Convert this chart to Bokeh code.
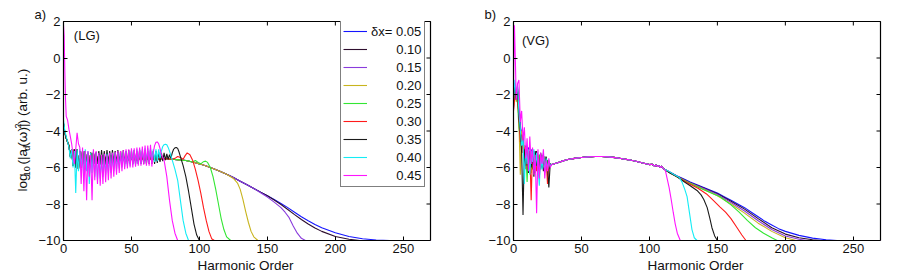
from bokeh.plotting import figure
from bokeh.layouts import row, column
from bokeh.models import Legend, LegendItem, Label, FixedTicker, Range1d, Title
from bokeh.embed import file_html
from bokeh.resources import INLINE

FONT = "Liberation Sans"
TXT = "#111111"

# ---------------- data ----------------
deltas = ["0.05", "0.10", "0.15", "0.20", "0.25", "0.30", "0.35", "0.40", "0.45"]
colors = ["#1414ff", "#2e0e2e", "#8a3cdc", "#c8b41e", "#33e633", "#ff1a1a", "#1a1a1a", "#14ecf5", "#ff14ff"]

x_ticks = [0, 50, 100, 150, 200, 250]
y_ticks = [-10, -8, -6, -4, -2, 0, 2]
x_lim = (0, 270)
y_lim = (-10, 2)

# ---- (LG) panel ----
lg_head_x = [0, 1, 2, 3, 4, 5, 6, 7, 8, 9, 10, 11, 12, 13, 14, 15, 16, 17, 18, 19, 20, 21, 22, 23, 24, 25]
lg_head_other = [-3.6, -4.1, -4.4, -4.6, -4.8, -5.4, -5.0, -5.9, -5.0, -6.0, -5.0, -6.1, -5.1, -6.0, -5.1, -6.1,
                 -5.1, -5.9, -5.2, -6.0, -5.2, -5.9, -5.2, -5.8, -5.2, -5.8]
lg_head_cyan = [-3.4, -4.0, -4.3, -4.6, -4.9, -5.5, -5.0, -6.0, -5.1, -7.4, -5.0, -6.2, -5.0, -6.0, -5.1, -6.4,
                -5.0, -6.2, -5.1, -6.9, -5.2, -6.3, -5.1, -6.5, -5.2, -6.7]
lg_head_mag_x = [0, 0.5, 1, 1.5, 2, 3, 4, 5, 6, 7, 8, 9, 10, 11, 12, 13, 14, 15, 16, 17, 18, 19, 20, 21, 22, 23, 24, 25]
lg_head_mag = [1.8, 1.2, -0.8, -2.3, -3.2, -3.4, -3.9, -4.3, -4.7, -5.3, -5.8, -5.0, -4.1, -4.7, -4.9, -6.9,
               -4.9, -7.3, -5.1, -7.8, -5.1, -6.5, -5.3, -7.8, -5.0, -6.7, -5.1, -6.9]

lg_plat_x = [26, 27, 28, 29, 30, 31, 32, 33, 34, 35, 36, 37, 38, 39, 40, 41, 42, 43, 44, 45,
             46, 47, 48, 49, 50, 51, 52, 53, 54, 55, 56, 57, 58, 59, 60, 61, 62, 63, 64, 65]
lg_plat_mag = [-5.2, -7.0, -5.3, -6.9, -5.25, -6.8, -5.3, -6.7, -5.2, -6.6, -5.2, -6.5, -5.15, -6.4, -5.1, -6.3,
               -5.1, -6.2, -5.05, -6.1, -5.0, -6.05, -5.0, -6.0, -4.95, -6.0, -4.95, -5.95, -4.9, -5.9,
               -4.9, -5.9, -4.85, -5.85, -4.8, -5.9, -4.8, -5.9, -4.75, -5.95]
lg_plat_cyan = [-5.3, -6.6, -5.3, -6.5, -5.3, -6.4, -5.25, -6.3, -5.25, -6.3, -5.2, -6.2, -5.2, -6.1, -5.2, -6.05,
                -5.15, -6.0, -5.15, -5.95, -5.1, -5.9, -5.1, -5.9, -5.05, -5.85, -5.05, -5.85, -5.0, -5.8,
                -5.0, -5.8, -5.0, -5.75, -4.95, -5.75, -4.95, -5.75, -4.95, -5.75]
lg_plat_black = [-5.1, -5.85, -5.05, -5.85, -5.1, -5.85, -5.05, -5.8, -5.1, -5.85, -5.05, -5.8, -5.1, -5.8,
                 -5.05, -5.8, -5.1, -5.8, -5.05, -5.8, -5.1, -5.8, -5.05, -5.8, -5.1, -5.8, -5.05, -5.8,
                 -5.1, -5.8, -5.05, -5.8, -5.1, -5.8, -5.05, -5.8, -5.1, -5.8, -5.05, -5.8]
lg_plat_small = [-5.3, -5.8, -5.3, -5.8, -5.32, -5.78, -5.32, -5.76, -5.34, -5.74, -5.34, -5.72, -5.36, -5.7,
                 -5.36, -5.7, -5.38, -5.68, -5.38, -5.66, -5.4, -5.66, -5.4, -5.64, -5.4, -5.64, -5.42, -5.62,
                 -5.42, -5.62, -5.42, -5.62, -5.44, -5.6, -5.44, -5.6, -5.44, -5.6, -5.45, -5.6]

lg_env_x = [66, 67, 68, 69, 70, 71, 72, 74, 76, 78, 80, 85, 90, 95, 100, 105, 110, 115, 120, 125, 130, 135, 140,
            145, 150, 155, 160, 165, 170, 175, 180, 185, 190, 200, 210, 220, 230, 240, 270]
lg_env_y = [-5.45, -5.6, -5.45, -5.6, -5.5, -5.58, -5.5, -5.55, -5.5, -5.55, -5.55, -5.58, -5.62, -5.7, -5.8,
            -5.92, -6.05, -6.2, -6.37, -6.55, -6.75, -6.95, -7.15, -7.35, -7.55, -7.75, -7.97, -8.2, -8.45,
            -8.7, -8.92, -9.12, -9.3, -9.58, -9.78, -9.9, -9.97, -10.0, -10.0]
lg_010_x = [155, 160, 165, 170, 175, 180, 185, 190, 200, 210, 218, 270]
lg_010_y = [-7.78, -8.03, -8.3, -8.58, -8.85, -9.1, -9.32, -9.5, -9.78, -9.93, -10.0, -10.0]
lg_015_x = [145, 150, 155, 160, 163, 166, 169, 172, 175, 178, 270]
lg_015_y = [-7.38, -7.62, -7.9, -8.2, -8.45, -8.75, -9.2, -9.6, -9.88, -10.0, -10.0]
lg_020_x = [125, 128, 130, 132, 134, 136, 138, 140, 143, 270]
lg_020_y = [-6.6, -6.85, -7.2, -7.75, -8.4, -9.0, -9.5, -9.8, -10.0, -10.0]
lg_025_x = [97, 99, 101, 103, 104.5, 106, 108, 110, 112, 114, 116, 118, 120, 123, 270]
lg_025_y = [-5.62, -5.72, -5.8, -5.68, -5.65, -5.72, -6.0, -6.5, -7.2, -8.0, -8.8, -9.4, -9.8, -10.0, -10.0]
lg_030_x = [82, 84, 86, 88, 89.5, 91, 93, 95, 97, 99, 101, 103, 105, 107, 109, 111, 270]
lg_030_y = [-5.5, -5.4, -5.45, -5.55, -5.35, -5.2, -5.3, -5.6, -6.1, -6.7, -7.4, -8.2, -8.9, -9.5, -9.9, -10.0, -10.0]
lg_035_x = [66, 67, 68, 69, 70, 71, 72, 73, 74, 75, 76, 77, 78, 79, 80, 81, 82, 83, 84, 85, 86, 88, 90, 92, 94,
            96, 98, 100, 270]
lg_035_y = [-5.1, -5.8, -5.1, -5.75, -5.15, -5.7, -5.2, -5.65, -5.2, -5.6, -5.25, -5.55, -5.3, -5.5, -5.2, -5.0,
            -4.92, -4.9, -4.95, -5.15, -5.4, -5.9, -6.5, -7.3, -8.2, -9.1, -9.7, -10.0, -10.0]
lg_040_x = [66, 67, 68, 69, 70, 71, 72, 73, 74, 75, 76, 77, 78, 80, 82, 84, 86, 88, 90, 92, 270]
lg_040_y = [-5.0, -5.7, -5.0, -5.65, -5.0, -5.5, -5.1, -4.85, -4.75, -4.72, -4.75, -4.9, -5.1, -5.6, -6.1, -6.7,
            -7.8, -8.9, -9.6, -10.0, -10.0]
lg_045_x = [66, 67, 68, 69, 70, 71, 72, 74, 76, 78, 80, 82, 84, 270]
lg_045_y = [-5.2, -4.8, -4.62, -4.6, -4.7, -4.95, -5.3, -5.6, -6.5, -7.8, -8.9, -9.6, -10.0, -10.0]

# ---- (VG) panel ----
vg_head_x = [0, 1, 2, 3, 4, 5, 6, 7, 8, 9, 10, 11, 12, 13, 14, 15, 16, 17, 18, 19, 20, 21, 22, 23, 24, 25, 26, 27]
vg_head_005 = [-2.8, -1.5, -2.0, -1.8, -3.2, -3.6, -4.5, -4.2, -5.3, -4.8, -5.6, -4.9, -6.0, -5.0, -5.8, -5.1,
               -6.2, -5.2, -5.9, -5.3, -6.0, -5.4, -6.1, -5.5, -5.9, -5.6, -6.0, -5.8]
vg_head_010 = [-2.5, -1.6, -2.2, -1.6, -3.0, -3.8, -4.3, -4.6, -5.1, -5.0, -5.7, -5.0, -6.1, -5.2, -5.7, -5.3,
               -6.0, -5.1, -6.1, -5.4, -5.8, -5.3, -6.2, -5.5, -5.8, -5.7, -6.1, -5.8]
vg_head_015 = [-2.6, -1.7, -2.1, -1.9, -3.1, -3.7, -4.6, -4.4, -5.4, -4.9, -5.9, -5.1, -5.8, -5.1, -6.0, -5.2,
               -5.9, -5.3, -6.2, -5.3, -6.1, -5.4, -5.9, -5.4, -6.0, -5.6, -5.9, -5.8]
vg_head_020 = [-2.6, -1.8, -2.4, -2.0, -3.5, -6.4, -4.0, -5.0, -4.8, -5.6, -5.0, -6.0, -5.1, -6.3, -5.3, -5.8,
               -5.2, -6.0, -5.4, -6.1, -5.3, -5.9, -5.5, -6.0, -5.6, -5.9, -5.7, -5.85]
vg_head_025 = [-2.7, -2.0, -1.9, -2.5, -3.8, -4.4, -5.0, -4.6, -5.5, -5.0, -6.8, -5.1, -5.9, -5.3, -6.1, -5.2,
               -6.3, -5.4, -5.8, -5.3, -6.1, -5.5, -6.0, -5.4, -5.9, -5.6, -6.0, -5.8]
vg_head_030 = [-2.9, -2.1, -1.9, -2.2, -3.4, -4.6, -4.2, -5.2, -4.9, -6.1, -5.0, -5.6, -5.1, -7.8, -5.0, -6.0,
               -5.2, -6.2, -5.3, -6.4, -5.4, -5.8, -5.3, -6.0, -5.5, -6.9, -5.7, -5.9]
vg_head_035 = [-2.4, -1.4, -2.3, -1.7, -3.3, -4.0, -5.2, -8.6, -5.0, -5.9, -4.9, -6.3, -5.1, -6.0, -5.2, -6.5,
               -5.1, -5.9, -5.4, -6.2, -5.2, -6.0, -5.6, -6.1, -5.4, -5.9, -7.1, -5.8]
vg_head_040 = [-2.3, -1.2, -2.0, -1.5, -3.0, -3.9, -4.8, -4.5, -6.9, -4.9, -5.8, -5.0, -6.4, -5.1, -5.7, -5.0,
               -6.2, -5.2, -6.0, -7.0, -5.3, -6.1, -5.2, -6.3, -5.5, -6.1, -5.6, -5.9]
vg_head_mag_x = [0, 0.7, 1.4, 2, 3, 4, 5, 6, 7, 8, 9, 10, 11, 12, 13, 14, 15, 16, 17, 18, 19, 20, 21, 22, 23, 24,
                 25, 26, 27]
vg_head_045 = [-1.5, 1.8, -0.2, -2.3, -1.4, -1.2, -3.5, -2.9, -4.5, -3.8, -5.5, -4.4, -6.2, -4.3, -5.8, -4.9,
               -6.4, -5.3, -8.5, -5.0, -6.6, -5.2, -5.8, -5.0, -6.6, -5.6, -6.2, -5.5, -6.0]

vg_mid_x = [28, 30, 32, 34, 36, 38, 40, 45, 50, 55, 60, 65, 70, 75, 80, 85, 90, 95, 100, 102, 104, 105, 106,
            107, 108, 109]
vg_mid_y = [-5.85, -5.8, -5.75, -5.7, -5.65, -5.6, -5.56, -5.5, -5.45, -5.42, -5.4, -5.4, -5.42, -5.46, -5.52,
            -5.58, -5.66, -5.75, -5.84, -5.82, -5.93, -5.86, -5.95, -5.9, -6.0, -5.93]

vg_005_x = [110, 115, 120, 125, 130, 135, 140, 145, 150, 155, 160, 165, 170, 175, 180, 185, 190, 195, 200, 210,
            220, 230, 238, 270]
vg_005_y = [-6.05, -6.25, -6.45, -6.62, -6.8, -6.95, -7.1, -7.25, -7.4, -7.6, -7.8, -8.0, -8.2, -8.45, -8.7,
            -8.95, -9.15, -9.35, -9.5, -9.72, -9.87, -9.96, -10.0, -10.0]
vg_010_x = [110, 120, 130, 140, 150, 160, 170, 180, 190, 200, 210, 220, 226, 270]
vg_010_y = [-6.05, -6.47, -6.83, -7.13, -7.44, -7.85, -8.28, -8.8, -9.3, -9.65, -9.85, -9.96, -10.0, -10.0]
vg_015_x = [110, 120, 130, 140, 150, 160, 170, 180, 190, 200, 210, 216, 270]
vg_015_y = [-6.05, -6.48, -6.85, -7.15, -7.48, -7.92, -8.38, -8.92, -9.4, -9.75, -9.93, -10.0, -10.0]
vg_020_x = [110, 120, 130, 140, 150, 160, 170, 180, 190, 200, 208, 270]
vg_020_y = [-6.05, -6.5, -6.87, -7.2, -7.55, -8.0, -8.5, -9.05, -9.5, -9.85, -10.0, -10.0]
vg_025_x = [110, 120, 130, 140, 152, 160, 166, 172, 178, 184, 190, 194, 270]
vg_025_y = [-6.05, -6.5, -6.88, -7.22, -7.6, -8.05, -8.45, -8.9, -9.3, -9.6, -9.85, -10.0, -10.0]
vg_030_x = [110, 120, 130, 136, 142, 147, 152, 156, 160, 164, 168, 171, 270]
vg_030_y = [-6.05, -6.5, -6.92, -7.15, -7.45, -7.8, -8.17, -8.45, -8.8, -9.25, -9.7, -10.0, -10.0]
vg_035_x = [110, 115, 120, 125, 130, 135, 138, 140, 142.5, 144.5, 146, 148, 150, 270]
vg_035_y = [-6.05, -6.3, -6.5, -6.75, -7.0, -7.26, -7.5, -7.75, -8.2, -8.8, -9.3, -9.75, -10.0, -10.0]
vg_040_x = [110, 114, 118, 122, 124, 126, 127.7, 129.5, 131.3, 133, 135, 270]
vg_040_y = [-6.05, -6.2, -6.38, -6.55, -6.8, -7.2, -7.6, -8.5, -9.4, -9.85, -10.0, -10.0]
vg_045_x = [110, 111.7, 113, 114.5, 116, 117.5, 119, 120.5, 122.7, 270]
vg_045_y = [-6.05, -6.16, -6.6, -7.1, -7.75, -8.45, -9.1, -9.6, -10.0, -10.0]

# ---- assemble series (concatenation of the read pieces) ----
lg_base_x = lg_head_x + lg_plat_x
lg_small_y = lg_head_other + lg_plat_small


def cut(xs, ys, xmax):
    keep = [i for i, xv in enumerate(xs) if xv < xmax]
    return [xs[i] for i in keep], [ys[i] for i in keep]


env_to = {"0.10": 155, "0.15": 145, "0.20": 125, "0.25": 97, "0.30": 82}
lg_tails = {
    "0.10": (lg_010_x, lg_010_y), "0.15": (lg_015_x, lg_015_y), "0.20": (lg_020_x, lg_020_y),
    "0.25": (lg_025_x, lg_025_y), "0.30": (lg_030_x, lg_030_y),
}
lg_series = {"0.05": (lg_base_x + lg_env_x, lg_small_y + lg_env_y)}
for d in ["0.10", "0.15", "0.20", "0.25", "0.30"]:
    ex, ey = cut(lg_env_x, lg_env_y, env_to[d])
    tx, ty = lg_tails[d]
    lg_series[d] = (lg_base_x + ex + tx, lg_small_y + ey + ty)
lg_series["0.35"] = (lg_base_x + lg_035_x, lg_head_other + lg_plat_black + lg_035_y)
lg_series["0.40"] = (lg_base_x + lg_040_x, lg_head_cyan + lg_plat_cyan + lg_040_y)
lg_series["0.45"] = (lg_head_mag_x + lg_plat_x + lg_045_x, lg_head_mag + lg_plat_mag + lg_045_y)

vg_heads = [vg_head_005, vg_head_010, vg_head_015, vg_head_020, vg_head_025, vg_head_030, vg_head_035, vg_head_040]
vg_tails = [(vg_005_x, vg_005_y), (vg_010_x, vg_010_y), (vg_015_x, vg_015_y), (vg_020_x, vg_020_y),
            (vg_025_x, vg_025_y), (vg_030_x, vg_030_y), (vg_035_x, vg_035_y), (vg_040_x, vg_040_y)]
vg_series = {}
for d, hy, (tx, ty) in zip(deltas[:8], vg_heads, vg_tails):
    vg_series[d] = (vg_head_x + vg_mid_x + tx, hy + vg_mid_y + ty)
vg_series["0.45"] = (vg_head_mag_x + vg_mid_x + vg_045_x, vg_head_045 + vg_mid_y + vg_045_y)


# ---------------- figures ----------------
def strip(width, height):
    s = figure(width=width, height=height, x_range=Range1d(0, width), y_range=Range1d(0, height),
               output_backend="svg", toolbar_location=None, x_axis_location=None, y_axis_location=None,
               min_border_left=0, min_border_right=0, min_border_top=0, min_border_bottom=0)
    s.xgrid.visible = False
    s.ygrid.visible = False
    s.outline_line_color = None
    s.background_fill_color = "white"
    s.border_fill_color = "white"
    return s


TOP = 21
FRAME_H = 219
BOTTOM = 19
LEFT_W = 34


def make_fig(width, left, right, tag):
    p = figure(width=width, height=TOP + FRAME_H + BOTTOM, x_range=Range1d(*x_lim), y_range=Range1d(*y_lim),
               output_backend="svg", toolbar_location=None,
               min_border_left=left, min_border_right=right, min_border_top=TOP, min_border_bottom=BOTTOM)
    p.title = Title(text=tag, align="left", offset=-29, standoff=0, text_font=FONT, text_font_size="13px",
                    text_font_style="normal", text_color=TXT)
    p.xgrid.visible = False
    p.ygrid.visible = False
    p.outline_line_color = "black"
    p.outline_line_width = 1.2
    p.background_fill_color = "white"
    p.border_fill_color = "white"
    p.xaxis.ticker = FixedTicker(ticks=x_ticks)
    p.yaxis.ticker = FixedTicker(ticks=y_ticks)
    p.yaxis.major_label_overrides = {t: ("\u2212" + str(-t) if t < 0 else str(t)) for t in y_ticks}
    for ax in p.xaxis + p.yaxis:
        ax.major_tick_in = 4
        ax.major_tick_out = 0
        ax.minor_tick_line_color = None
        ax.axis_line_color = "black"
        ax.major_tick_line_color = "black"
        ax.major_label_text_font = FONT
        ax.major_label_text_font_size = "13px"
        ax.major_label_text_color = TXT
    p.xaxis.major_label_standoff = 3
    p.yaxis.major_label_standoff = 3
    # inward tick marks on the top and right edges of the box, at the tick positions
    ty = (y_lim[1] - y_lim[0]) * 4.0 / FRAME_H
    tx = (x_lim[1] - x_lim[0]) * 4.0 / 367
    p.segment(x0=x_ticks, y0=[y_lim[1]] * len(x_ticks), x1=x_ticks, y1=[y_lim[1] - ty] * len(x_ticks),
              line_color="black", line_width=1)
    p.segment(x0=[x_lim[1]] * len(y_ticks), y0=y_ticks, x1=[x_lim[1] - tx] * len(y_ticks), y1=y_ticks,
              line_color="black", line_width=1)
    return p


p1 = make_fig(416, 29, 20, "a)")
p2 = make_fig(446, 63, 16, "b)")

lg_renderers = []
for d, c in zip(deltas, colors):
    xs, ys = lg_series[d]
    lg_renderers.append(p1.line(xs, ys, line_color=c, line_width=1.1))
for d, c in zip(deltas, colors):
    xs, ys = vg_series[d]
    p2.line(xs, ys, line_color=c, line_width=1.1)

NB = "\u00a0" * 7
labels = ["\u03b4x= " + deltas[0]] + [NB + d for d in deltas[1:]]
legend = Legend(items=[LegendItem(label=l, renderers=[r]) for l, r in zip(labels, lg_renderers)],
                location=(277, 53), label_text_font=FONT, label_text_font_size="13px",
                label_text_color=TXT, glyph_width=24, glyph_height=18, label_height=18,
                label_standoff=4, spacing=0, padding=2, margin=0, border_line_color="black",
                border_line_width=1, background_fill_alpha=1.0)
p1.add_layout(legend)

p1.add_layout(Label(x=7.6, y=1.23, text="(LG)", text_baseline="middle", text_font=FONT,
                    text_font_size="13px", text_color=TXT))
p2.add_layout(Label(x=6.2, y=0.96, text="(VG)", text_baseline="middle", text_font=FONT,
                    text_font_size="13px", text_color=TXT))

# strips holding the texts that lie outside the plot boxes (units = pixels)
TOTAL_W = LEFT_W + 416 + 446
BOT_H = 16
bottom = strip(TOTAL_W, BOT_H)
for cx in (245, 695):
    bottom.add_layout(Label(x=cx, y=BOT_H - 6, text="Harmonic Order", text_align="center", text_baseline="middle",
                            text_font=FONT, text_font_size="13.5px", text_color=TXT))

left = strip(LEFT_W, TOP + FRAME_H + BOTTOM)
pieces = [("log", 22, 58, "13.5px"), ("10", 26.5, 76, "9px"), ("(|a", 22, 90, "13.5px"),
          ("d", 26.5, 106, "9px"), ("(\u03c9)|", 22, 111, "13.5px"), ("2", 17.5, 132.5, "9px"),
          (") (arb. u.)", 22, 137.5, "13.5px")]
for t, xx, yy, fs in pieces:
    left.add_layout(Label(x=xx, y=yy, text=t, angle=1.5707963, text_baseline="middle", text_align="left",
                          text_font=FONT, text_font_size=fs, text_color=TXT))

layout = column(row(left, p1, p2), bottom)
open("out.html", "w").write(file_html(layout, INLINE))
